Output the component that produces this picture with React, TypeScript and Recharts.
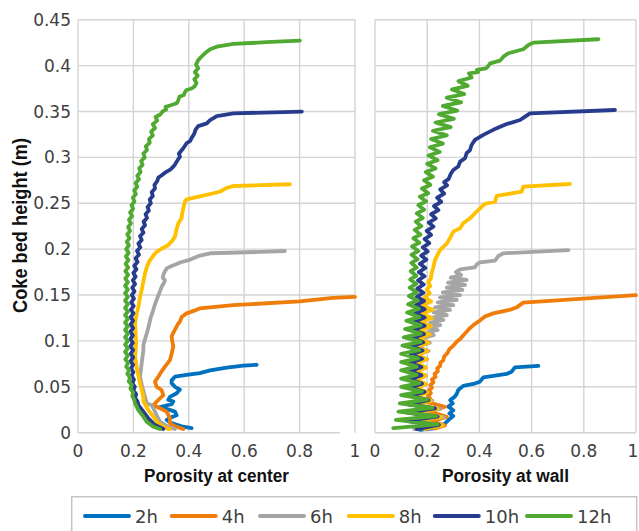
import { Line, LineChart, ReferenceLine, XAxis, YAxis } from "recharts";

const HOURS = ["2h", "4h", "6h", "8h", "10h", "12h"];
const COLORS = ["#0070c0", "#f07d0a", "#a5a5a5", "#ffc000", "#283c8e", "#50aa32"];
const X_TICKS = [0, 0.2, 0.4, 0.6, 0.8, 1];
const Y_TICKS = [0, 0.05, 0.1, 0.15, 0.2, 0.25, 0.3, 0.35, 0.4, 0.45];

// [porosity, bed height] pairs
const center2h = [[0.41,0.005],[0.374,0.007],[0.332,0.011],[0.32,0.014],[0.338,0.017],[0.356,0.019],[0.35,0.023],[0.308,0.027],[0.296,0.028],[0.338,0.031],[0.344,0.034],[0.326,0.036],[0.332,0.039],[0.356,0.043],[0.368,0.047],[0.35,0.05],[0.338,0.054],[0.338,0.057],[0.35,0.061],[0.392,0.063],[0.44,0.065],[0.477,0.068],[0.537,0.071],[0.597,0.073],[0.645,0.074]];
const center4h = [[0.38,0.004],[0.35,0.007],[0.332,0.01],[0.332,0.0157],[0.32,0.023],[0.296,0.0266],[0.272,0.03],[0.29,0.0356],[0.308,0.041],[0.302,0.0465],[0.284,0.05],[0.278,0.0556],[0.29,0.061],[0.3,0.066],[0.314,0.072],[0.332,0.079],[0.338,0.086],[0.344,0.094],[0.34,0.1],[0.338,0.105],[0.346,0.11],[0.356,0.1155],[0.362,0.119],[0.368,0.121],[0.374,0.126],[0.392,0.13],[0.42,0.133],[0.44,0.1355],[0.56,0.139],[0.8,0.143],[0.92,0.147],[1.0,0.148]];
const center6h = [[0.35,0.004],[0.326,0.006],[0.296,0.012],[0.284,0.019],[0.272,0.0266],[0.266,0.03],[0.248,0.032],[0.242,0.039],[0.232,0.05],[0.224,0.061],[0.23,0.0756],[0.236,0.09],[0.236,0.0956],[0.244,0.104],[0.25,0.11],[0.256,0.117],[0.262,0.125],[0.27,0.132],[0.278,0.14],[0.288,0.148],[0.296,0.154],[0.302,0.159],[0.31,0.163],[0.314,0.166],[0.306,0.169],[0.308,0.172],[0.314,0.176],[0.32,0.179],[0.338,0.1817],[0.374,0.186],[0.4,0.188],[0.416,0.19],[0.44,0.193],[0.477,0.1955],[0.657,0.197],[0.747,0.198]];
const center8h = [[0.332,0.004],[0.32,0.0048],[0.29,0.01],[0.272,0.0174],[0.254,0.0247],[0.236,0.034],[0.236,0.039],[0.224,0.054],[0.214,0.068],[0.206,0.083],[0.21,0.098],[0.206,0.119],[0.212,0.13],[0.218,0.137],[0.224,0.148],[0.23,0.1555],[0.236,0.165],[0.242,0.1737],[0.25,0.182],[0.26,0.188],[0.272,0.193],[0.284,0.197],[0.305,0.201],[0.326,0.2045],[0.34,0.209],[0.35,0.2136],[0.356,0.222],[0.362,0.228],[0.368,0.231],[0.374,0.2336],[0.376,0.239],[0.38,0.2445],[0.386,0.2517],[0.392,0.2543],[0.44,0.2575],[0.489,0.2609],[0.513,0.2626],[0.535,0.2665],[0.561,0.2688],[0.765,0.2707]];
const center10h = [[0.308,0.004],[0.278,0.0084],[0.254,0.0157],[0.236,0.023],[0.218,0.03],[0.215,0.034],[0.206,0.038],[0.21,0.042],[0.2,0.046],[0.205,0.05],[0.196,0.054],[0.202,0.058],[0.193,0.062],[0.2,0.066],[0.191,0.07],[0.199,0.074],[0.19,0.078],[0.199,0.082],[0.19,0.086],[0.199,0.09],[0.189,0.094],[0.198,0.098],[0.189,0.102],[0.198,0.106],[0.189,0.11],[0.199,0.114],[0.19,0.118],[0.199,0.122],[0.19,0.126],[0.2,0.13],[0.191,0.134],[0.201,0.138],[0.192,0.142],[0.202,0.146],[0.194,0.15],[0.204,0.154],[0.196,0.158],[0.206,0.162],[0.198,0.166],[0.208,0.17],[0.2,0.174],[0.211,0.178],[0.203,0.182],[0.215,0.186],[0.208,0.19],[0.22,0.194],[0.213,0.198],[0.225,0.202],[0.218,0.206],[0.23,0.21],[0.224,0.214],[0.236,0.218],[0.23,0.222],[0.242,0.226],[0.237,0.23],[0.249,0.234],[0.244,0.238],[0.256,0.242],[0.251,0.246],[0.263,0.25],[0.259,0.254],[0.27,0.258],[0.266,0.262],[0.278,0.266],[0.276,0.27],[0.286,0.274],[0.29,0.278],[0.3,0.28],[0.314,0.2833],[0.33,0.286],[0.338,0.288],[0.35,0.292],[0.356,0.2953],[0.364,0.299],[0.368,0.3008],[0.364,0.304],[0.372,0.307],[0.38,0.31],[0.392,0.3154],[0.405,0.318],[0.41,0.321],[0.42,0.326],[0.424,0.33],[0.434,0.334],[0.465,0.337],[0.477,0.3407],[0.501,0.345],[0.561,0.348],[0.808,0.3498]];
const center12h = [[0.296,0.004],[0.272,0.0065],[0.248,0.012],[0.236,0.0174],[0.218,0.0247],[0.206,0.032],[0.203,0.036],[0.196,0.04],[0.199,0.044],[0.189,0.048],[0.194,0.052],[0.183,0.056],[0.188,0.06],[0.178,0.064],[0.185,0.068],[0.174,0.072],[0.181,0.076],[0.171,0.08],[0.18,0.084],[0.17,0.088],[0.18,0.092],[0.17,0.096],[0.18,0.1],[0.17,0.104],[0.18,0.108],[0.17,0.112],[0.18,0.116],[0.17,0.12],[0.18,0.124],[0.17,0.128],[0.18,0.132],[0.17,0.136],[0.18,0.14],[0.17,0.144],[0.18,0.148],[0.17,0.152],[0.18,0.156],[0.17,0.16],[0.18,0.164],[0.171,0.168],[0.181,0.172],[0.171,0.176],[0.181,0.18],[0.172,0.184],[0.182,0.188],[0.173,0.192],[0.183,0.196],[0.174,0.2],[0.184,0.204],[0.176,0.208],[0.186,0.212],[0.178,0.216],[0.188,0.22],[0.181,0.224],[0.191,0.228],[0.184,0.232],[0.195,0.236],[0.188,0.24],[0.199,0.244],[0.193,0.248],[0.204,0.252],[0.198,0.256],[0.209,0.26],[0.203,0.264],[0.214,0.268],[0.208,0.272],[0.22,0.276],[0.214,0.28],[0.226,0.284],[0.221,0.288],[0.233,0.292],[0.228,0.296],[0.241,0.3],[0.236,0.304],[0.249,0.308],[0.245,0.312],[0.259,0.316],[0.256,0.32],[0.27,0.324],[0.264,0.328],[0.278,0.332],[0.27,0.336],[0.286,0.34],[0.28,0.344],[0.298,0.347],[0.305,0.35],[0.318,0.352],[0.316,0.355],[0.338,0.357],[0.356,0.359],[0.362,0.362],[0.366,0.366],[0.382,0.368],[0.386,0.371],[0.392,0.3734],[0.41,0.375],[0.42,0.377],[0.428,0.381],[0.42,0.385],[0.432,0.389],[0.422,0.393],[0.434,0.397],[0.426,0.401],[0.432,0.405],[0.44,0.408],[0.458,0.4134],[0.477,0.4178],[0.501,0.4206],[0.561,0.4236],[0.68,0.4255],[0.801,0.4272]];

const wall2h = [[0.172,0.003],[0.224,0.0047],[0.262,0.0084],[0.281,0.0138],[0.3,0.0182],[0.285,0.021],[0.3,0.0245],[0.281,0.0284],[0.298,0.032],[0.288,0.0355],[0.305,0.039],[0.313,0.0422],[0.319,0.0465],[0.338,0.051],[0.377,0.0531],[0.402,0.0556],[0.415,0.0603],[0.5045,0.064],[0.5236,0.0665],[0.536,0.0712],[0.626,0.0727]];
const wall4h = [[0.23,0.0047],[0.268,0.008],[0.217,0.012],[0.275,0.0174],[0.211,0.023],[0.268,0.0283],[0.204,0.033],[0.212,0.037],[0.203,0.04],[0.214,0.043],[0.206,0.046],[0.218,0.049],[0.212,0.052],[0.224,0.055],[0.218,0.058],[0.232,0.061],[0.228,0.064],[0.241,0.067],[0.238,0.07],[0.25,0.073],[0.25,0.076],[0.262,0.079],[0.265,0.083],[0.278,0.087],[0.285,0.091],[0.3,0.095],[0.313,0.099],[0.326,0.102],[0.338,0.106],[0.351,0.1101],[0.36,0.113],[0.377,0.1173],[0.396,0.121],[0.421,0.1265],[0.453,0.13],[0.523,0.1344],[0.543,0.1366],[0.568,0.1417],[1.0,0.15]];
const wall6h = [[0.15,0.004],[0.26,0.008],[0.12,0.0125],[0.265,0.017],[0.125,0.0215],[0.25,0.026],[0.13,0.0305],[0.22,0.035],[0.14,0.0395],[0.2,0.044],[0.145,0.0485],[0.195,0.053],[0.145,0.0575],[0.195,0.062],[0.15,0.0665],[0.195,0.071],[0.15,0.0755],[0.2,0.08],[0.155,0.0845],[0.205,0.089],[0.16,0.0935],[0.21,0.098],[0.17,0.1025],[0.225,0.1064],[0.198,0.109],[0.24,0.1119],[0.204,0.1145],[0.25,0.1173],[0.212,0.12],[0.262,0.1228],[0.218,0.1255],[0.275,0.128],[0.225,0.131],[0.287,0.1337],[0.23,0.1365],[0.3,0.139],[0.24,0.142],[0.313,0.1446],[0.249,0.1475],[0.326,0.15],[0.26,0.153],[0.335,0.1555],[0.275,0.158],[0.345,0.161],[0.28,0.1635],[0.351,0.1664],[0.29,0.169],[0.33,0.1718],[0.31,0.175],[0.326,0.178],[0.383,0.1802],[0.39,0.1834],[0.402,0.1856],[0.46,0.1874],[0.4725,0.1925],[0.4917,0.1955],[0.741,0.199]];
const wall8h = [[0.19,0.004],[0.26,0.008],[0.15,0.0125],[0.255,0.017],[0.155,0.0215],[0.24,0.026],[0.16,0.0305],[0.215,0.035],[0.16,0.0395],[0.2,0.044],[0.16,0.0485],[0.195,0.053],[0.158,0.0575],[0.195,0.062],[0.158,0.0665],[0.195,0.071],[0.158,0.0755],[0.198,0.08],[0.16,0.0845],[0.2,0.089],[0.162,0.0935],[0.205,0.098],[0.165,0.1025],[0.21,0.107],[0.168,0.1115],[0.215,0.116],[0.172,0.1205],[0.218,0.125],[0.176,0.1295],[0.22,0.134],[0.18,0.1385],[0.215,0.143],[0.19,0.1475],[0.21,0.152],[0.198,0.156],[0.212,0.16],[0.204,0.164],[0.214,0.168],[0.217,0.1737],[0.223,0.18],[0.23,0.1882],[0.249,0.199],[0.275,0.206],[0.287,0.2118],[0.3,0.2191],[0.326,0.2227],[0.338,0.2282],[0.364,0.2336],[0.383,0.2391],[0.409,0.2463],[0.421,0.2493],[0.46,0.2518],[0.466,0.258],[0.562,0.2627],[0.568,0.2681],[0.747,0.271]];
const wall10h = [[0.16,0.004],[0.245,0.0085],[0.12,0.013],[0.24,0.0175],[0.125,0.022],[0.23,0.0265],[0.13,0.031],[0.205,0.0355],[0.135,0.04],[0.19,0.0445],[0.135,0.049],[0.18,0.0535],[0.135,0.058],[0.178,0.0625],[0.135,0.067],[0.178,0.0715],[0.135,0.076],[0.18,0.0805],[0.137,0.085],[0.182,0.0895],[0.14,0.094],[0.185,0.0985],[0.143,0.103],[0.188,0.1075],[0.146,0.112],[0.19,0.1165],[0.15,0.121],[0.19,0.1255],[0.153,0.13],[0.19,0.1345],[0.156,0.139],[0.188,0.1435],[0.16,0.148],[0.186,0.1525],[0.162,0.157],[0.187,0.1615],[0.165,0.166],[0.19,0.1705],[0.168,0.175],[0.193,0.1795],[0.172,0.184],[0.197,0.1885],[0.177,0.193],[0.202,0.1975],[0.183,0.202],[0.208,0.2065],[0.19,0.211],[0.215,0.2155],[0.198,0.22],[0.224,0.2245],[0.206,0.229],[0.233,0.2335],[0.215,0.238],[0.243,0.2425],[0.226,0.247],[0.254,0.2515],[0.238,0.256],[0.265,0.2605],[0.25,0.265],[0.276,0.2695],[0.265,0.273],[0.282,0.2765],[0.29,0.2818],[0.3,0.2862],[0.319,0.29],[0.326,0.2953],[0.345,0.299],[0.351,0.3045],[0.364,0.308],[0.37,0.3135],[0.383,0.319],[0.415,0.3245],[0.453,0.33],[0.5045,0.3363],[0.556,0.3407],[0.575,0.3444],[0.594,0.348],[0.9195,0.3516]];
const wall12h = [[0.07,0.005],[0.24,0.009],[0.08,0.014],[0.235,0.018],[0.09,0.023],[0.22,0.027],[0.095,0.032],[0.2,0.036],[0.1,0.041],[0.18,0.045],[0.1,0.05],[0.17,0.054],[0.1,0.059],[0.16,0.063],[0.1,0.068],[0.16,0.072],[0.1,0.077],[0.165,0.081],[0.1,0.086],[0.17,0.09],[0.105,0.095],[0.175,0.099],[0.11,0.104],[0.175,0.108],[0.115,0.113],[0.175,0.117],[0.12,0.122],[0.17,0.126],[0.123,0.131],[0.168,0.135],[0.127,0.14],[0.163,0.144],[0.13,0.149],[0.16,0.153],[0.133,0.158],[0.158,0.162],[0.135,0.167],[0.158,0.171],[0.137,0.176],[0.16,0.18],[0.139,0.185],[0.163,0.189],[0.14,0.194],[0.166,0.198],[0.142,0.203],[0.17,0.207],[0.147,0.212],[0.174,0.216],[0.152,0.221],[0.178,0.225],[0.156,0.23],[0.183,0.234],[0.16,0.239],[0.188,0.243],[0.166,0.248],[0.196,0.252],[0.172,0.257],[0.204,0.261],[0.18,0.266],[0.212,0.27],[0.188,0.275],[0.222,0.279],[0.195,0.284],[0.232,0.288],[0.2,0.293],[0.24,0.297],[0.205,0.302],[0.248,0.306],[0.21,0.311],[0.26,0.315],[0.215,0.32],[0.275,0.324],[0.222,0.329],[0.29,0.333],[0.232,0.338],[0.302,0.342],[0.245,0.347],[0.315,0.351],[0.26,0.356],[0.33,0.36],[0.275,0.365],[0.342,0.369],[0.295,0.374],[0.355,0.378],[0.32,0.383],[0.37,0.387],[0.36,0.3916],[0.395,0.393],[0.39,0.3952],[0.425,0.397],[0.434,0.3995],[0.441,0.4025],[0.479,0.4054],[0.492,0.4097],[0.511,0.4134],[0.568,0.4178],[0.588,0.4225],[0.607,0.425],[0.856,0.4287]];

const CENTER = [center2h, center4h, center6h, center8h, center10h, center12h];
const WALL = [wall2h, wall4h, wall6h, wall8h, wall10h, wall12h];

const GRID = "#d4d4d4";
const TICK_STYLE = { fill: "#404040", fontSize: 17 };

const toPoints = (pairs: number[][]) => pairs.map(([x, y]) => ({ x, y }));

// x tick that pulls the last label ("1") a little inside the frame
function XTick(props: any) {
  const { x, y, payload, edgeShift } = props;
  const dx = payload.value === 1 ? edgeShift : 0;
  return (
    <text x={x + dx} y={y} dy="0.71em" textAnchor="middle" {...TICK_STYLE}>
      {String(payload.value)}
    </text>
  );
}

interface PanelProps {
  series: number[][][];
  width: number;
  left: number;
  right: number;
  showY: boolean;
  axisEnd: number;
  edgeShift: number;
}

function Panel({ series, width, left, right, showY, axisEnd, edgeShift }: PanelProps) {
  return (
    <LineChart
      width={width}
      height={470}
      margin={{ top: 19.7, right, bottom: 7.3, left }}
    >
      <XAxis
        type="number"
        dataKey="x"
        domain={[0, 1]}
        ticks={X_TICKS}
        interval={0}
        axisLine={false}
        tickLine={false}
        tickSize={0}
        tickMargin={12}
        height={30}
        tick={<XTick edgeShift={edgeShift} />}
      />
      <YAxis
        type="number"
        dataKey="y"
        domain={[0, 0.45]}
        ticks={Y_TICKS}
        interval={0}
        hide={!showY}
        width={78}
        axisLine={false}
        tickLine={false}
        tickSize={0}
        tickMargin={7}
        tick={TICK_STYLE}
      />
      {Y_TICKS.filter((t) => t > 0).map((t) => (
        <ReferenceLine key={"h" + t} y={t} stroke={GRID} strokeWidth={1.4} />
      ))}
      {X_TICKS.map((t) => (
        <ReferenceLine key={"v" + t} x={t} stroke={GRID} strokeWidth={1.4} />
      ))}
      <ReferenceLine
        segment={[{ x: 0, y: 0 }, { x: axisEnd, y: 0 }]}
        stroke={GRID}
        strokeWidth={1.4}
      />
      {series.map((s, i) => (
        <Line
          key={HOURS[i]}
          data={toPoints(s)}
          dataKey="y"
          type="linear"
          stroke={COLORS[i]}
          strokeWidth={3.8}
          strokeLinejoin="round"
          strokeLinecap="round"
          dot={false}
          activeDot={false}
          isAnimationActive={false}
        />
      ))}
    </LineChart>
  );
}

const LEGEND_X = [85, 171.7, 260, 348.8, 434.8, 527];

export default function App() {
  return (
    <div
      style={{
        position: "absolute",
        left: 0,
        top: 0,
        width: 639,
        height: 531,
        overflow: "hidden",
        background: "#fff",
        fontFamily: "DejaVu Sans",
      }}
    >
      <div style={{ position: "absolute", left: 0, top: 0 }}>
        <Panel series={CENTER} width={370} left={0} right={15} showY axisEnd={0.945} edgeShift={0} />
      </div>
      <div style={{ position: "absolute", left: 360, top: 0 }}>
        <Panel series={WALL} width={279} left={15} right={3} showY={false} axisEnd={1} edgeShift={-3} />
      </div>
      <svg
        width={639}
        height={531}
        style={{ position: "absolute", left: 0, top: 0, pointerEvents: "none" }}
      >
        <g fontFamily="Liberation Sans" fontWeight="bold" fill="#111">
          <text x={216.5} y={481.7} textAnchor="middle" fontSize={18} textLength={145} lengthAdjust="spacingAndGlyphs">
            Porosity at center
          </text>
          <text x={505.5} y={481.7} textAnchor="middle" fontSize={18} textLength={127} lengthAdjust="spacingAndGlyphs">
            Porosity at wall
          </text>
          <text
            transform="translate(26.7 225.5) rotate(-90)"
            textAnchor="middle"
            fontSize={20}
            textLength={175}
            lengthAdjust="spacingAndGlyphs"
          >
            Coke bed height (m)
          </text>
        </g>
        <rect x={71.7} y={496.7} width={565} height={60} fill="none" stroke="#c4c4c4" strokeWidth={1.5} />
        {HOURS.map((h, i) => (
          <g key={h}>
            <line
              x1={LEGEND_X[i]}
              x2={LEGEND_X[i] + 44}
              y1={516}
              y2={516}
              stroke={COLORS[i]}
              strokeWidth={4}
              strokeLinecap="round"
            />
            <text x={LEGEND_X[i] + 50} y={523} fontSize={18} fill="#404040" fontFamily="DejaVu Sans">
              {h}
            </text>
          </g>
        ))}
      </svg>
    </div>
  );
}
